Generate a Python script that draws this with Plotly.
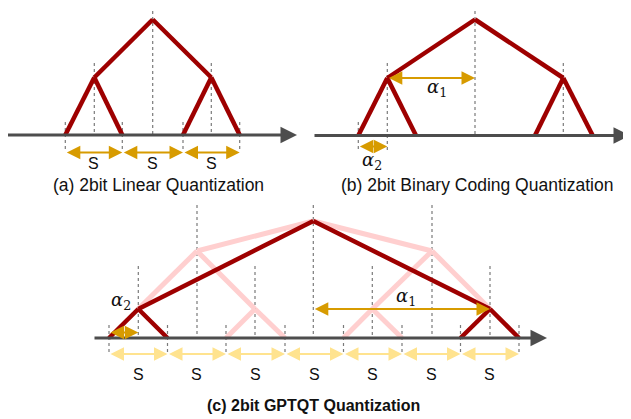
import plotly.graph_objects as go

# ---------------- data (diagram node positions, pixel-like units) ----------------
# Panel (a): 2bit linear quantization tree
a_leaf_x = [65.3, 122.3, 183.0, 239.7]
a_mid_x = [94.3, 211.3]
a_top_x = 152.7
a_level_y = [135.0, 77.5, 19.5]          # leaf, mid, top
a_axis_x = [6.0, 297.0]
a_s_labels = ["S", "S", "S"]

# Panel (b): 2bit binary coding quantization tree
b_leaf_x = [358.3, 416.0, 535.0, 592.7]
b_mid_x = [387.3, 563.3]
b_top_x = 475.0
b_level_y = [135.5, 78.0, 19.5]
b_axis_x = [313.0, 630.0]

# Panel (c): 2bit GPTQT quantization tree
c_leaf_x = [109.0, 167.5, 226.0, 285.0, 343.5, 402.0, 460.5, 519.0]
c_mid_x = [138.3, 255.0, 372.3, 490.0]
c_up_x = [197.0, 432.0]
c_top_x = 313.3
c_level_y = [338.0, 309.0, 251.0, 221.0]  # leaf, mid, upper, top
c_axis_x = [93.0, 547.0]
c_s_labels = ["S"] * 7

titles = ["(a) 2bit Linear Quantization",
          "(b) 2bit Binary Coding Quantization",
          "<b>(c) 2bit GPTQT Quantization</b>"]

# ---------------- styles ----------------
DARK = "#9e0000"
PALE = "#ffcfcf"
GOLD = "#d79b00"
LIGHTGOLD = "#ffe38f"
AXIS = "#4d4d4d"
DOT = "#7a7a7a"
SANS = "Liberation Sans"
SERIF = "DejaVu Serif"

fig = go.Figure()
ann = []


def seg(p, q, color, width):
    fig.add_trace(go.Scatter(x=[p[0], q[0]], y=[p[1], q[1]], mode="lines",
                             line=dict(color=color, width=width),
                             hoverinfo="skip", showlegend=False))


def vdot(x, y0, y1):
    fig.add_trace(go.Scatter(x=[x, x], y=[y0, y1], mode="lines",
                             line=dict(color=DOT, width=1.2, dash="dot"),
                             hoverinfo="skip", showlegend=False))


def arrow(x0, x1, y, color, width=2, size=1.35, both=True, head=2):
    ann.append(dict(x=x1, y=y, ax=x0, ay=y, xref="x", yref="y", axref="x", ayref="y",
                    text="", showarrow=True, arrowhead=head, startarrowhead=head,
                    arrowsize=size, startarrowsize=size, arrowwidth=width,
                    arrowcolor=color, arrowside="end+start" if both else "end",
                    standoff=0, startstandoff=0))


def label(x, y, text, size=14, family=SANS, color="#111"):
    ann.append(dict(x=x, y=y, xref="x", yref="y", text=text, showarrow=False,
                    font=dict(size=size, family=family, color=color)))


def axis_line(xs, y):
    ann.append(dict(x=xs[1], y=y, ax=xs[0], ay=y, xref="x", yref="y", axref="x", ayref="y",
                    text="", showarrow=True, arrowhead=2, arrowsize=1.1, arrowwidth=3,
                    arrowcolor=AXIS, standoff=0))


# ---------------- panel (a) ----------------
ly, my, ty = a_level_y
vdot(a_top_x, 5, ly)
for x in a_mid_x:
    vdot(x, 63, ly)
for x in a_leaf_x:
    vdot(x, 122, 150)
axis_line(a_axis_x, ly)
top = (a_top_x, ty)
for i, mx in enumerate(a_mid_x):
    seg(top, (mx, my), DARK, 4.5)
    seg((a_leaf_x[2 * i], ly), (mx, my), DARK, 4.5)
    seg((mx, my), (a_leaf_x[2 * i + 1], ly), DARK, 4.5)
for i, t in enumerate(a_s_labels):
    arrow(a_leaf_x[i], a_leaf_x[i + 1], 152.5, GOLD)
    label((a_leaf_x[i] + a_leaf_x[i + 1]) / 2, 163.5, t, size=16)
label(158, 184.5, titles[0], size=17.5)

# ---------------- panel (b) ----------------
ly, my, ty = b_level_y
vdot(b_top_x, 5, ly)
vdot(b_mid_x[0], 63, 151)
vdot(b_mid_x[1], 63, ly)
vdot(b_leaf_x[0], 122, 151)
axis_line(b_axis_x, ly)
top = (b_top_x, ty)
for i, mx in enumerate(b_mid_x):
    seg(top, (mx, my), DARK, 4.5)
    seg((b_leaf_x[2 * i], ly), (mx, my), DARK, 4.5)
    seg((mx, my), (b_leaf_x[2 * i + 1], ly), DARK, 4.5)
arrow(b_mid_x[0], b_top_x, my, GOLD)
label(437, 88, "<i>α</i><sub>1</sub>", size=18, family=SERIF)
arrow(b_leaf_x[0], b_mid_x[0], 146.5, GOLD)
label(372, 161, "<i>α</i><sub>2</sub>", size=18, family=SERIF)
label(477, 184.5, titles[1], size=17.5)

# ---------------- panel (c) ----------------
ly, my, uy, ty = c_level_y
for x in c_up_x + [c_top_x]:
    vdot(x, 205, ly)
for x in c_mid_x:
    vdot(x, 266, ly)
for x in c_leaf_x:
    vdot(x, 325, 353)
axis_line(c_axis_x, ly)

T = (c_top_x, ty)
U = [(x, uy) for x in c_up_x]
M = [(x, my) for x in c_mid_x]
L = [(x, ly) for x in c_leaf_x]
pale_edges = [(M[0], U[0]), (U[0], T), (T, U[1]), (U[1], M[3]),
              (U[0], M[1]), (M[1], L[2]), (M[1], L[3]),
              (U[1], M[2]), (M[2], L[4]), (M[2], L[5])]
dark_edges = [(L[0], M[0]), (M[0], L[1]), (M[0], T), (T, M[3]),
              (L[6], M[3]), (M[3], L[7])]
for p, q in pale_edges:
    seg(p, q, PALE, 5)
for p, q in dark_edges:
    seg(p, q, DARK, 4.5)

for i, t in enumerate(c_s_labels):
    arrow(c_leaf_x[i], c_leaf_x[i + 1], 354, LIGHTGOLD)
    label((c_leaf_x[i] + c_leaf_x[i + 1]) / 2, 374.5, t, size=16)
arrow(c_top_x, c_mid_x[3], my, GOLD)
label(406, 297, "<i>α</i><sub>1</sub>", size=18, family=SERIF)
arrow(c_leaf_x[0], c_mid_x[0], 332.5, GOLD)
label(121, 301, "<i>α</i><sub>2</sub>", size=18, family=SERIF)
label(313, 405, titles[2], size=16)

# The page body has an 8px margin, so the plot starts at page pixel (8, 8);
# ranges start at 8 so that the diagram units line up with page pixels.
fig.update_layout(
    width=623, height=411,
    margin=dict(l=0, r=0, t=0, b=0),
    paper_bgcolor="white", plot_bgcolor="white",
    xaxis=dict(range=[8, 631], visible=False, fixedrange=True),
    yaxis=dict(range=[419, 8], visible=False, fixedrange=True),
    annotations=ann,
    showlegend=False,
)
fig.write_html("out.html")
